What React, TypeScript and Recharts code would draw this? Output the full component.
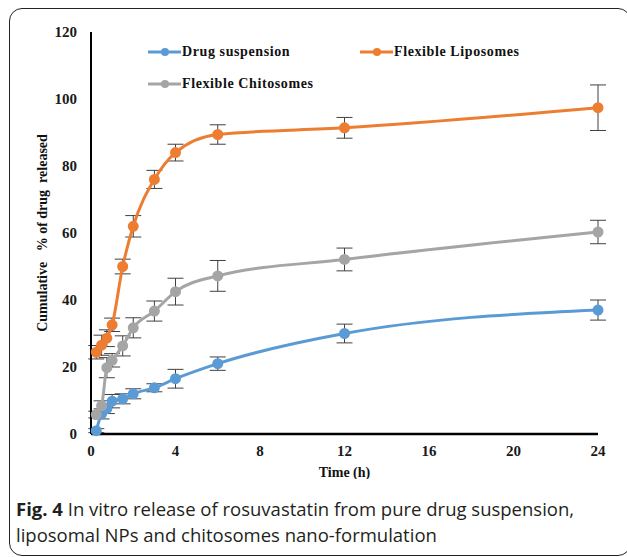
import React from 'react';
import {
  LineChart,
  Line,
  XAxis,
  YAxis,
  ErrorBar,
  Legend,
} from 'recharts';

const hours = [0.25, 0.5, 0.75, 1, 1.5, 2, 3, 4, 6, 12, 24];
const drugSuspension = [1, 6, 7.6, 9.8, 10.5, 12, 13.8, 16.5, 21, 30, 37];
const drugSuspensionSd = [0.6, 1.5, 1.5, 2, 1.5, 1.5, 1.2, 2.8, 2, 2.8, 3];
const liposomes = [24.4, 26.5, 28.6, 32.6, 50, 62, 76, 84, 89.4, 91.4, 97.4];
const liposomesSd = [2, 3, 2.5, 2, 2.2, 3.2, 2.7, 2.5, 2.9, 3.1, 6.8];
const chitosomes = [5.8, 8.4, 19.8, 22, 26.3, 31.7, 36.7, 42.5, 47.2, 52.1, 60.3];
const chitosomesSd = [1, 1.5, 3, 2, 3, 3, 3, 4, 4.6, 3.4, 3.5];

const xTicks = [0, 4, 8, 12, 16, 20, 24];
const yTicks = [0, 20, 40, 60, 80, 100, 120];

const data = hours.map((t, i) => ({
  t,
  drug: drugSuspension[i],
  drugSd: drugSuspensionSd[i],
  lipo: liposomes[i],
  lipoSd: liposomesSd[i],
  chito: chitosomes[i],
  chitoSd: chitosomesSd[i],
}));

const serif = '"Liberation Serif", "Times New Roman", serif';
const tickStyle = { fontFamily: serif, fontWeight: 700, fontSize: 15, fill: '#1a1a1a' };

const LegendItem = ({ color, label }: { color: string; label: string }) => (
  <div style={{ display: 'flex', alignItems: 'center', height: 32 }}>
    <svg width={34} height={10}>
      <line x1={0} y1={5} x2={33} y2={5} stroke={color} strokeWidth={3} />
      <circle cx={17} cy={5} r={4} fill={color} />
    </svg>
    <span
      style={{
        fontFamily: serif,
        fontWeight: 700,
        fontSize: 14,
        letterSpacing: 0.6,
        color: '#111',
      }}
    >
      {label}
    </span>
  </div>
);

const ChartLegend = () => (
  <div style={{ display: 'grid', gridTemplateColumns: '212px 200px' }}>
    <LegendItem color="#5B9BD5" label="Drug suspension" />
    <LegendItem color="#ED7D31" label="Flexible Liposomes" />
    <LegendItem color="#A5A5A5" label="Flexible Chitosomes" />
  </div>
);

const YLabel = ({ viewBox }: any) => {
  const cx = 42;
  const cy = viewBox.y + viewBox.height / 2;
  return (
    <text
      x={cx}
      y={cy}
      transform={`rotate(-90, ${cx}, ${cy})`}
      textAnchor="middle"
      dominantBaseline="central"
      style={{ fontFamily: serif, fontWeight: 700, fontSize: 14, fill: '#111', whiteSpace: 'pre' }}
    >
      {'Cumulative   % of drug  released'}
    </text>
  );
};

export default function App() {
  return (
    <div
      style={{
        position: 'absolute',
        left: 0,
        top: 0,
        width: 627,
        height: 557,
        background: '#fff',
        overflow: 'hidden',
      }}
    >
      <div
        style={{
          position: 'absolute',
          left: 9,
          top: 8,
          width: 620,
          height: 546,
          border: '1.5px solid #222',
          borderRadius: 13,
        }}
      />
      <div style={{ position: 'absolute', left: 0, top: 0 }}>
        <LineChart
          width={627}
          height={479}
          data={data}
          margin={{ top: 32, right: 29, bottom: 0, left: 0 }}
        >
          <XAxis
            dataKey="t"
            type="number"
            domain={[0, 24]}
            ticks={xTicks}
            tickLine={false}
            tickSize={0}
            tickMargin={11}
            height={45}
            axisLine={{ stroke: '#000', strokeWidth: 2.5 }}
            tick={tickStyle}
            label={{
              value: 'Time (h)',
              position: 'insideBottom',
              offset: 2,
              style: { fontFamily: serif, fontWeight: 700, fontSize: 14, fill: '#111' },
            }}
          />
          <YAxis
            type="number"
            domain={[0, 120]}
            ticks={yTicks}
            tickLine={false}
            tickSize={0}
            tickMargin={14}
            width={91}
            axisLine={{ stroke: '#000', strokeWidth: 2 }}
            tick={tickStyle}
            label={<YLabel />}
          />
          <Legend
            layout="horizontal"
            verticalAlign="middle"
            align="center"
            content={<ChartLegend />}
            wrapperStyle={{ top: 36, left: 148, width: 420 }}
          />
          <Line
            type="monotone"
            dataKey="drug"
            name="Drug suspension"
            stroke="#5B9BD5"
            strokeWidth={3}
            dot={{ r: 4, fill: '#5B9BD5', stroke: '#5B9BD5' }}
            isAnimationActive={false}
          >
            <ErrorBar dataKey="drugSd" direction="y" width={8} stroke="#404040" strokeWidth={1} />
          </Line>
          <Line
            type="monotone"
            dataKey="lipo"
            name="Flexible Liposomes"
            stroke="#ED7D31"
            strokeWidth={3}
            dot={{ r: 4, fill: '#ED7D31', stroke: '#ED7D31' }}
            isAnimationActive={false}
          >
            <ErrorBar dataKey="lipoSd" direction="y" width={8} stroke="#404040" strokeWidth={1} />
          </Line>
          <Line
            type="monotone"
            dataKey="chito"
            name="Flexible Chitosomes"
            stroke="#A5A5A5"
            strokeWidth={3}
            dot={{ r: 4, fill: '#A5A5A5', stroke: '#A5A5A5' }}
            isAnimationActive={false}
          >
            <ErrorBar dataKey="chitoSd" direction="y" width={8} stroke="#404040" strokeWidth={1} />
          </Line>
        </LineChart>
      </div>
      <div
        style={{
          position: 'absolute',
          left: 16,
          top: 496,
          width: 600,
          fontFamily: '"Open Sans", "Noto Sans", sans-serif',
          fontSize: 18.5,
          lineHeight: '26px',
          color: '#231f20',
        }}
      >
        <b>Fig. 4</b> In vitro release of rosuvastatin from pure drug suspension,
        <br />
        liposomal NPs and chitosomes nano-formulation
      </div>
    </div>
  );
}
